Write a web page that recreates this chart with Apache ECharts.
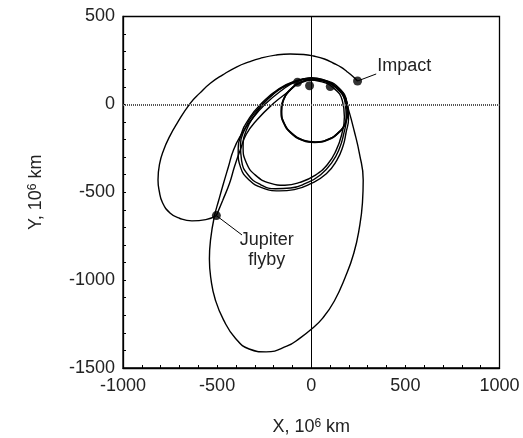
<!DOCTYPE html>
<html><head><meta charset="utf-8">
<script src="https://cdn.jsdelivr.net/npm/echarts@6/dist/echarts.min.js"></script>
<style>html,body{margin:0;padding:0;background:#fff}#c{width:523px;height:438px}</style>
</head><body><div id="c"></div>
<script>
// axis ranges / ticks (10^6 km)
const xRange = [-1000, 1000];
const yRange = [-1500, 500];
const tickStep = 500;
const xAxisTitle = 'X, 10{sup|6} km';
const yAxisTitle = 'Y, 10{sup|6} km';

// small near-circular loop (thick)
const smallOrbit = [[195,-38],[182,30],[143,87],[86,126],[18,140],[-50,127],[-107,88],[-146,30],[-159,-38],[-146,-106],[-107,-163],[-50,-202],[18,-216],[86,-202],[143,-163],[182,-106],[195,-38]];
const smallOrbit2 = [[190,-30],[176,36],[138,92],[80,130],[12,142],[-55,126],[-110,84],[-148,25],[-158,-42],[-143,-110],[-102,-166],[-44,-204],[24,-214],[92,-198],[147,-158],[184,-98],[190,-30]];

// medium loops
const midLoopA = [[-10,150],[80,135],[150,90],[190,10],[198,-80],[185,-160],[168,-240],[135,-320],[80,-395],[0,-450],[-90,-485],[-170,-492],[-260,-475],[-330,-430],[-375,-360],[-388,-270],[-375,-180],[-330,-80],[-260,10],[-170,90],[-80,135],[-10,150]];
const midLoopB = [[-20,146],[70,132],[140,86],[180,10],[186,-80],[172,-170],[150,-250],[110,-330],[50,-400],[-30,-450],[-110,-476],[-190,-480],[-270,-456],[-335,-402],[-370,-320],[-376,-230],[-352,-140],[-302,-50],[-222,40],[-132,110],[-20,146]];
const midLoopC = [[-40,142],[50,130],[120,92],[165,22],[176,-70],[162,-170],[132,-262],[86,-342],[20,-404],[-60,-444],[-140,-460],[-220,-448],[-295,-404],[-345,-332],[-362,-240],[-346,-150],[-300,-60],[-230,30],[-140,102],[-40,142]];

// large lower ellipse
const bigEllipse = [[0,152],[60,142],[120,108],[170,62],[198,-30],[228,-150],[256,-280],[276,-430],[272,-560],[256,-700],[226,-847],[180,-985],[122,-1120],[62,-1215],[0,-1280],[-60,-1330],[-130,-1376],[-240,-1408],[-330,-1392],[-402,-1332],[-466,-1226],[-510,-1110],[-532,-1000],[-541,-880],[-535,-771],[-515,-639],[-490,-540],[-466,-449],[-440,-355],[-413,-259],[-372,-172],[-318,-88],[-244,2],[-162,76],[-82,130],[0,152]];

// transfer leg to Jupiter flyby and leg from flyby to impact
const legToFlyby = [[-73,126],[-112,82],[-200,6],[-289,-89],[-345,-170],[-377,-259],[-408,-355],[-434,-449],[-470,-545],[-504,-633]];
const legToImpact = [[-504,-633],[-560,-656],[-634,-663],[-700,-648],[-749,-619],[-790,-560],[-808,-490],[-814,-430],[-806,-340],[-784,-259],[-752,-182],[-713,-108],[-643,6],[-592,64],[-536,120],[-470,168],[-395,214],[-330,242],[-271,262],[-190,280],[-112,287],[-40,284],[12,275],[70,258],[118,234],[160,210],[190,186],[220,160],[246,133]];

// event markers
const eventPoints = [[-73,126],[-9,106],[101,101],[-504,-633],[246,133]];
const impactLabel = 'Impact';
const flybyLabel = 'Jupiter\nflyby';

const FONT = 'Liberation Sans, Arial, sans-serif';
const FS = 18;
const chart = echarts.init(document.getElementById('c'), null, {renderer:'canvas'});

function curve(data, w) {
  return {type:'line', data:data, smooth:true, showSymbol:false, symbol:'none', silent:true,
    lineStyle:{color:'#000', width:w||1.4}, z:3, animation:false};
}
const richSup = {sup:{fontSize:12, fontFamily:FONT, color:'#222', verticalAlign:'top', lineHeight:12}};
const plain = v => String(v);

chart.setOption({
  animation:false,
  backgroundColor:'#fff',
  grid:{left:123, right:23.5, top:16.5, bottom:70, containLabel:false, outerBoundsMode:'none',
    show:true, borderColor:'#000', borderWidth:1.3, backgroundColor:'transparent'},
  xAxis:{type:'value', min:xRange[0], max:xRange[1], interval:tickStep,
    name:xAxisTitle, nameLocation:'middle', nameGap:50,
    nameTextStyle:{fontSize:FS, fontFamily:FONT, color:'#222', rich:richSup},
    axisLine:{onZero:false, lineStyle:{color:'#000', width:1.3}},
    axisTick:{inside:true, length:3, lineStyle:{color:'#000'}},
    minorTick:{show:true, splitNumber:5, length:3, lineStyle:{color:'#000'}},
    splitLine:{show:false},
    axisLabel:{fontSize:FS, fontFamily:FONT, color:'#222', margin:9, formatter:plain}},
  yAxis:{type:'value', min:yRange[0], max:yRange[1], interval:tickStep,
    name:yAxisTitle, nameLocation:'middle', nameGap:78, nameRotate:90,
    nameTextStyle:{fontSize:FS, fontFamily:FONT, color:'#222', rich:richSup},
    axisLine:{onZero:false, lineStyle:{color:'#000', width:1.3}},
    axisTick:{inside:true, length:3, lineStyle:{color:'#000'}},
    minorTick:{show:true, splitNumber:5, length:3, lineStyle:{color:'#000'}},
    splitLine:{show:false},
    axisLabel:{fontSize:FS, fontFamily:FONT, color:'#222', margin:8, formatter:plain}},
  series:[
    {type:'line', data:[], z:1, silent:true,
      markLine:{silent:true, symbol:'none', animation:false, label:{show:false},
        data:[
          {xAxis:0, lineStyle:{color:'#000', width:1, type:'solid'}},
          {yAxis:0, lineStyle:{color:'#555', width:1.8, type:[1,1]}}
        ]}},
    curve(smallOrbit, 1.8),
    curve(smallOrbit2, 1.6),
    curve(midLoopA),
    curve(midLoopB),
    curve(midLoopC),
    curve(bigEllipse),
    curve(legToFlyby),
    curve(legToImpact),
    {type:'scatter', data:eventPoints, symbol:'circle', symbolSize:9, itemStyle:{color:'#000'}, z:5, silent:true,
      markLine:{silent:true, symbol:'none', animation:false, label:{show:false}, lineStyle:{color:'#000', width:1, type:'solid'},
        data:[
          [{coord:[246,133]},{coord:[345,173]}],
          [{coord:[-504,-633]},{coord:[-368,-743]}]
        ]},
      markPoint:{silent:true, symbol:'circle', symbolSize:0, animation:false,
        label:{show:true, position:'inside', fontSize:FS, fontFamily:FONT, color:'#222', lineHeight:20, formatter:p=>p.name},
        data:[
          {coord:[494,218], name:impactLabel, value:0},
          {coord:[-236,-828], name:flybyLabel, value:0}
        ]}}
  ]
});
</script></body></html>
